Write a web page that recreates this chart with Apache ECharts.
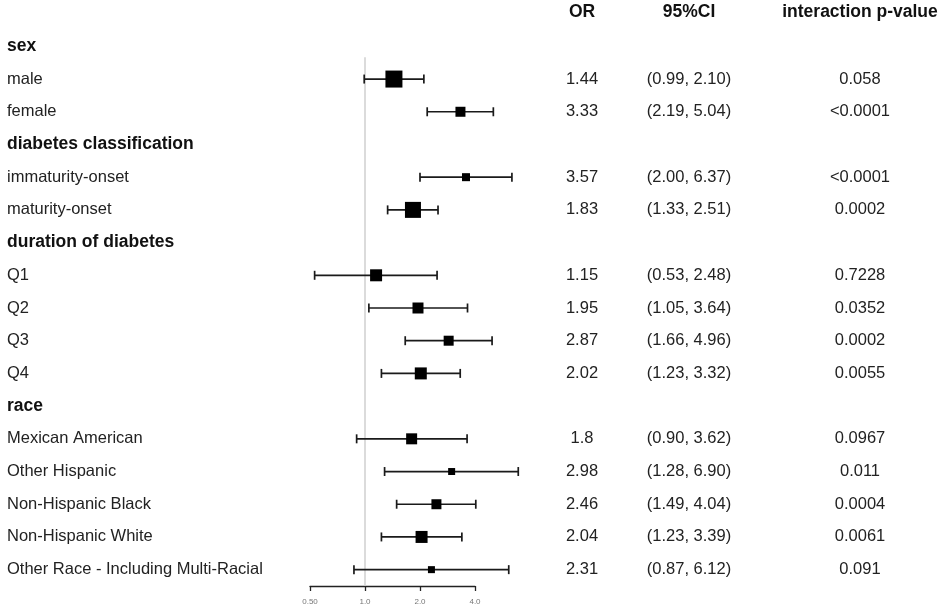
<!DOCTYPE html>
<html lang="en">
<head>
<meta charset="UTF-8">
<title>forest_subgroup</title>
<script src="https://cdn.jsdelivr.net/npm/echarts@6/dist/echarts.min.js"></script>
<style>
    html, body { margin: 0; padding: 0; background: #fff; }
    #main { width: 945px; height: 609px; }
</style>
</head>
<body>
<div id="main"></div>
<script>
    // rows of the forest plot, group headings included
    var rows = ['sex', 'male', 'female', 'diabetes classification', 'immaturity-onset', 'maturity-onset',
        'duration of diabetes', 'Q1', 'Q2', 'Q3', 'Q4', 'race', 'Mexican American', 'Other Hispanic',
        'Non-Hispanic Black', 'Non-Hispanic White', 'Other Race - Including Multi-Racial'];
    var isHeader = [1, 0, 0, 1, 0, 0, 1, 0, 0, 0, 0, 1, 0, 0, 0, 0, 0];
    var orText = ['', '1.44', '3.33', '', '3.57', '1.83', '', '1.15', '1.95', '2.87', '2.02', '', '1.8', '2.98', '2.46', '2.04', '2.31'];
    var ciLow = [null, 0.99, 2.19, null, 2.00, 1.33, null, 0.53, 1.05, 1.66, 1.23, null, 0.90, 1.28, 1.49, 1.23, 0.87];
    var ciHigh = [null, 2.10, 5.04, null, 6.37, 2.51, null, 2.48, 3.64, 4.96, 3.32, null, 3.62, 6.90, 4.04, 3.39, 6.12];
    var pText = ['', '0.058', '<0.0001', '', '<0.0001', '0.0002', '', '0.7228', '0.0352', '0.0002', '0.0055', '', '0.0967', '0.011', '0.0004', '0.0061', '0.091'];
    // box weight (px)
    var boxSize = [0, 17, 10, 0, 8, 16, 0, 12, 11, 10, 12, 0, 11, 7, 10, 12, 7];
    var axisTicks = [0.5, 1, 2, 4];
    var axisTickLabels = ['0.50', '1.0', '2.0', '4.0'];
    var columnHeads = ['OR', '95%CI', 'interaction p-value'];

    var ciText = rows.map(function (r, i) {
        return isHeader[i] ? '' : '(' + ciLow[i].toFixed(2) + ', ' + ciHigh[i].toFixed(2) + ')';
    });
    var ciData = [];
    rows.forEach(function (r, i) {
        if (!isHeader[i]) ciData.push([Number(orText[i]), ciLow[i], ciHigh[i], i, boxSize[i]]);
    });

    var FONT = 'Liberation Sans';
    var chart = echarts.init(document.getElementById('main'));

    function colAxis(data, offset) {
        return {
            type: 'category', gridIndex: 0, position: 'right', offset: offset, inverse: true, data: data,
            axisLine: {show: false}, axisTick: {show: false}, splitLine: {show: false},
            axisLabel: {interval: 0, margin: 0, align: 'center', color: '#222', fontSize: 16.5, fontFamily: FONT}
        };
    }

    // column heading centres
    var headX = [582, 689, 860];

    chart.setOption({
        animation: false,
        grid: [
            {left: 310, width: 275, top: 30, height: 556},
            {left: 310, width: 165, top: 580, height: 6}
        ],
        xAxis: [
            {type: 'log', logBase: 2, min: 0.5, max: 16, gridIndex: 0, show: false},
            {
                type: 'log', logBase: 2, min: axisTicks[0], max: axisTicks[axisTicks.length - 1], gridIndex: 1,
                axisLine: {lineStyle: {color: '#222', width: 1.3}},
                axisTick: {length: 5, lineStyle: {color: '#222', width: 1.3}},
                splitLine: {show: false},
                axisLabel: {
                    fontSize: 8, color: '#777', margin: 12, fontFamily: FONT,
                    formatter: function (v) {
                        for (var k = 0; k < axisTicks.length; k++) {
                            if (Math.abs(axisTicks[k] - v) < 1e-6) return axisTickLabels[k];
                        }
                        return '';
                    }
                }
            }
        ],
        yAxis: [
            {
                type: 'category', gridIndex: 0, inverse: true, data: rows,
                axisLine: {show: false}, axisTick: {show: false},
                axisLabel: {
                    interval: 0, align: 'left', margin: 303,
                    formatter: function (v, i) { return isHeader[i] ? '{h|' + v + '}' : '{n|' + v + '}'; },
                    rich: {
                        h: {fontSize: 17.5, fontWeight: 'bold', color: '#111', fontFamily: FONT},
                        n: {fontSize: 16.5, color: '#222', fontFamily: FONT}
                    }
                }
            },
            colAxis(orText, -3),
            colAxis(ciText, 104),
            colAxis(pText, 275),
            {type: 'value', gridIndex: 1, show: false}
        ],
        graphic: columnHeads.map(function (t, k) {
            return {
                type: 'text', x: headX[k], y: 12, silent: true,
                style: {
                    text: t, textAlign: 'center', textVerticalAlign: 'middle', align: 'center', verticalAlign: 'middle',
                    fontSize: 17.5, fontWeight: 'bold', fontFamily: FONT, fill: '#111'
                }
            };
        }),
        series: [
            {
                // reference line at OR = 1
                type: 'custom', xAxisIndex: 0, yAxisIndex: 0, silent: true,
                data: [[1, 0]],
                renderItem: function (params, api) {
                    var top = api.coord([api.value(0), api.value(1)]);
                    var cs = params.coordSys;
                    return {
                        type: 'line',
                        shape: {x1: top[0], y1: top[1] + 11, x2: top[0], y2: cs.y + cs.height},
                        style: {stroke: '#cfcfcf', lineWidth: 1.5}
                    };
                }
            },
            {
                type: 'custom', xAxisIndex: 0, yAxisIndex: 0, silent: true,
                encode: {x: [0, 1, 2], y: 3},
                data: ciData,
                renderItem: function (params, api) {
                    var c = api.coord([api.value(0), api.value(3)]);
                    var l = api.coord([api.value(1), api.value(3)]);
                    var h = api.coord([api.value(2), api.value(3)]);
                    var s = api.value(4);
                    var st = {stroke: '#1a1a1a', lineWidth: 1.7};
                    return {
                        type: 'group',
                        children: [
                            {type: 'line', shape: {x1: l[0], y1: l[1], x2: h[0], y2: h[1]}, style: st},
                            {type: 'line', shape: {x1: l[0], y1: l[1] - 4.5, x2: l[0], y2: l[1] + 4.5}, style: st},
                            {type: 'line', shape: {x1: h[0], y1: h[1] - 4.5, x2: h[0], y2: h[1] + 4.5}, style: st},
                            {type: 'rect', shape: {x: c[0] - s / 2, y: c[1] - s / 2, width: s, height: s}, style: {fill: '#000'}}
                        ]
                    };
                }
            }
        ]
    });
</script>
</body>
</html>
